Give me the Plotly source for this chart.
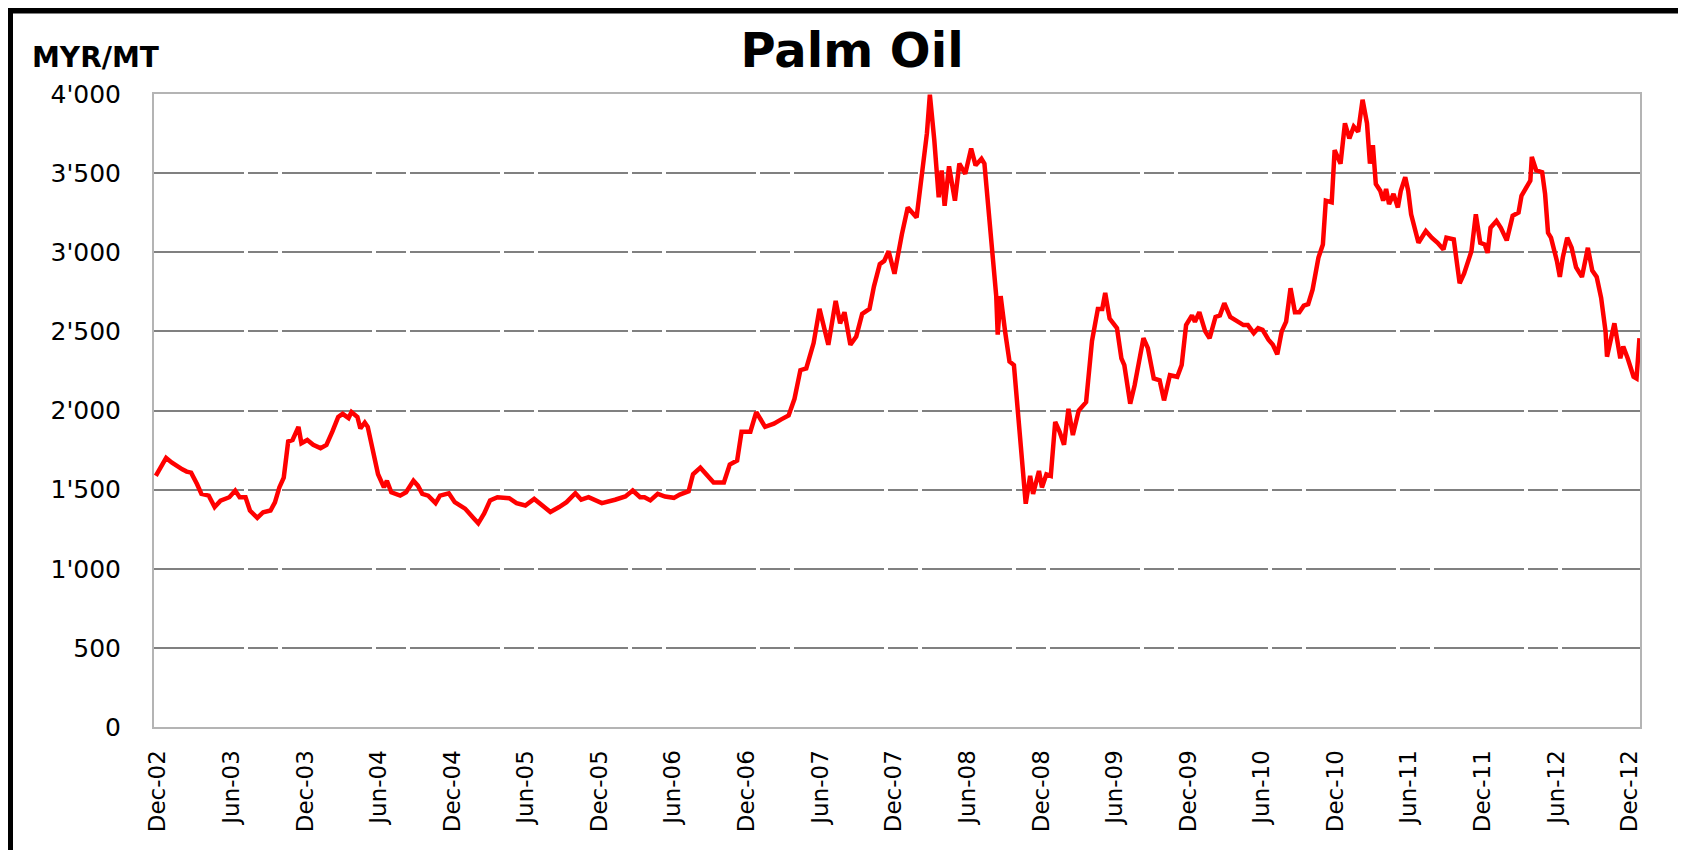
import pandas as pd
import plotly.graph_objects as go

# Time as decimal years
t = [2002.90, 2002.97, 2003.01, 2003.04, 2003.08, 2003.11, 2003.14, 2003.18, 2003.21, 2003.26,
     2003.30, 2003.34, 2003.37, 2003.40, 2003.44, 2003.47, 2003.51, 2003.54, 2003.59, 2003.63,
     2003.68, 2003.71, 2003.74, 2003.77, 2003.80, 2003.83, 2003.87, 2003.89, 2003.93, 2003.97,
     2004.02, 2004.06, 2004.10, 2004.14, 2004.17, 2004.21, 2004.23, 2004.27, 2004.29, 2004.32,
     2004.34, 2004.38, 2004.41, 2004.45, 2004.47, 2004.50, 2004.56,
     2004.60, 2004.65, 2004.68, 2004.71, 2004.75, 2004.80, 2004.83, 2004.89, 2004.93, 2005.00,
     2005.06, 2005.09, 2005.13, 2005.17, 2005.22, 2005.30, 2005.35, 2005.41, 2005.47, 2005.52,
     2005.58, 2005.64, 2005.69, 2005.75, 2005.79, 2005.84, 2005.93, 2006.02, 2006.09, 2006.14,
     2006.19, 2006.22,
     2006.26, 2006.31, 2006.36, 2006.42, 2006.46, 2006.52, 2006.55, 2006.60, 2006.64, 2006.69,
     2006.76, 2006.80, 2006.85, 2006.88, 2006.94, 2006.98, 2007.04, 2007.10, 2007.15, 2007.20,
     2007.24, 2007.28, 2007.32, 2007.37, 2007.41, 2007.47, 2007.52, 2007.55, 2007.58, 2007.62,
     2007.66, 2007.70, 2007.75, 2007.78, 2007.82,
     2007.85, 2007.88, 2007.92, 2007.97, 2008.01, 2008.07, 2008.10, 2008.14, 2008.16, 2008.19,
     2008.22, 2008.24, 2008.26, 2008.29, 2008.33, 2008.36, 2008.40, 2008.44, 2008.47, 2008.51,
     2008.53, 2008.56, 2008.58, 2008.61, 2008.62, 2008.64, 2008.67, 2008.70, 2008.73, 2008.76,
     2008.79, 2008.81, 2008.84, 2008.86, 2008.90, 2008.92, 2008.95, 2008.98, 2009.01, 2009.04,
     2009.07, 2009.10, 2009.13, 2009.17, 2009.22, 2009.26, 2009.30, 2009.33, 2009.35, 2009.38,
     2009.43, 2009.46, 2009.48, 2009.52, 2009.55,
     2009.57, 2009.61, 2009.64, 2009.68, 2009.72, 2009.75, 2009.79, 2009.84, 2009.87, 2009.90,
     2009.94, 2009.96, 2009.99, 2010.03, 2010.06, 2010.10, 2010.13, 2010.16, 2010.20, 2010.24,
     2010.29, 2010.32, 2010.36, 2010.39, 2010.42, 2010.46, 2010.49, 2010.52, 2010.55, 2010.58,
     2010.61, 2010.64, 2010.67, 2010.70, 2010.73, 2010.76, 2010.80, 2010.83, 2010.85, 2010.89,
     2010.91, 2010.95, 2010.98, 2011.01, 2011.04, 2011.07, 2011.10, 2011.13, 2011.15, 2011.17,
     2011.19,
     2011.22, 2011.24, 2011.26, 2011.28, 2011.31, 2011.34, 2011.36, 2011.39, 2011.41, 2011.43,
     2011.48, 2011.53, 2011.57, 2011.61, 2011.65, 2011.67, 2011.72, 2011.76, 2011.79, 2011.84,
     2011.87, 2011.90, 2011.93, 2011.95, 2011.97, 2012.01, 2012.04, 2012.08, 2012.12, 2012.16,
     2012.18, 2012.21, 2012.24, 2012.25, 2012.28, 2012.32, 2012.34, 2012.36, 2012.38, 2012.42,
     2012.44, 2012.46, 2012.49, 2012.52, 2012.55, 2012.59, 2012.63, 2012.66, 2012.69, 2012.72,
     2012.75, 2012.76, 2012.79, 2012.81, 2012.85, 2012.87, 2012.90, 2012.94, 2012.96, 2012.98]

# Palm oil price, MYR/MT
price = [1587, 1700, 1670, 1650, 1628, 1614, 1607, 1535, 1473, 1462,
         1390, 1430, 1441, 1452, 1494, 1452, 1452, 1368, 1321, 1357,
         1368, 1420, 1514, 1576, 1804, 1814, 1897, 1793, 1814, 1783,
         1762, 1783, 1866, 1959, 1979, 1952, 1990, 1959, 1886, 1924,
         1897, 1742, 1597, 1514, 1556, 1483, 1462,
         1483, 1556, 1525, 1473, 1462, 1415, 1462, 1477, 1421, 1380,
         1318, 1287, 1349, 1432, 1452, 1446, 1415, 1400, 1441, 1400,
         1359, 1390, 1421, 1477, 1436, 1452, 1415, 1436, 1457, 1494,
         1452, 1452,
         1432, 1473, 1456, 1448, 1469, 1490, 1597, 1639, 1597, 1545,
         1545, 1659, 1684, 1866, 1866, 1990, 1897, 1917, 1944, 1969,
         2074, 2255, 2266, 2426, 2642, 2415, 2692, 2551, 2621, 2415,
         2468, 2611, 2642, 2783, 2925,
         2945, 3006, 2864, 3113, 3283, 3219, 3432, 3751, 3996, 3709,
         3347, 3517, 3294, 3543, 3326, 3560, 3496, 3655, 3549, 3591,
         3560, 3240, 3006, 2723, 2480, 2723, 2500, 2309, 2287, 1948,
         1597, 1411, 1587, 1473, 1618, 1514, 1597, 1587, 1928, 1866,
         1783, 2011, 1845, 2000, 2053, 2439, 2642, 2642, 2743, 2581,
         2520, 2330, 2287, 2043, 2160,
         2266, 2457, 2394, 2202, 2191, 2064, 2223, 2213, 2287, 2540,
         2601, 2561, 2621, 2500, 2457, 2591, 2601, 2678, 2591, 2571,
         2540, 2540, 2489, 2520, 2510, 2447, 2415, 2355, 2500, 2561,
         2773, 2621, 2621, 2662, 2672, 2763, 2966, 3049, 3326, 3315,
         3645, 3560, 3815, 3719, 3794, 3762, 3964, 3815, 3560, 3677,
         3432,
         3389, 3326, 3400, 3304, 3368, 3283, 3389, 3474, 3389, 3240,
         3060, 3134, 3092, 3060, 3017, 3092, 3081, 2804, 2864, 3006,
         3240, 3060, 3049, 2996, 3155, 3198, 3155, 3075, 3230, 3251,
         3357, 3411, 3453, 3602, 3517, 3506, 3368, 3123, 3092, 2945,
         2844, 2966, 3092, 3028, 2905, 2844, 3028, 2884, 2844, 2712,
         2500, 2340, 2479, 2551, 2330, 2404, 2330, 2213, 2202, 2457]

x_tick_dates = ["2002-12-01", "2003-06-01", "2003-12-01", "2004-06-01", "2004-12-01",
                "2005-06-01", "2005-12-01", "2006-06-01", "2006-12-01", "2007-06-01",
                "2007-12-01", "2008-06-01", "2008-12-01", "2009-06-01", "2009-12-01",
                "2010-06-01", "2010-12-01", "2011-06-01", "2011-12-01", "2012-06-01",
                "2012-12-01"]
x_tick_labels = ["Dec-02", "Jun-03", "Dec-03", "Jun-04", "Dec-04", "Jun-05", "Dec-05",
                 "Jun-06", "Dec-06", "Jun-07", "Dec-07", "Jun-08", "Dec-08", "Jun-09",
                 "Dec-09", "Jun-10", "Dec-10", "Jun-11", "Dec-11", "Jun-12", "Dec-12"]
y_tick_vals = [0, 500, 1000, 1500, 2000, 2500, 3000, 3500, 4000]
y_tick_labels = ["0", "500", "1'000", "1'500", "2'000", "2'500", "3'000", "3'500", "4'000"]


def to_date(ty):
    y = int(ty)
    start = pd.Timestamp(y, 1, 1)
    end = pd.Timestamp(y + 1, 1, 1)
    return start + (end - start) * (ty - y)


dates = [to_date(v) for v in t]

# the page body has an 8px margin; the figure is sized to fill the rest of the window
OFF = 8
W, H = 1686 - OFF, 850 - OFF
L, R, T, B = 154 - OFF, 46, 94 - OFF, 123
pw, ph = W - L - R, H - T - B


def px(xs):  # screen x -> paper x
    return (xs - OFF - L) / pw


def py(ys):  # screen y -> paper y
    return (H - B - (ys - OFF)) / ph


fig = go.Figure()
fig.add_trace(go.Scatter(x=dates, y=price, mode="lines",
                         line=dict(color="#ff0000", width=4.5), hoverinfo="skip"))

font_main = "DejaVu Sans"

fig.update_layout(
    width=W, height=H,
    margin=dict(l=L, r=R, t=T, b=B, autoexpand=False),
    paper_bgcolor="white", plot_bgcolor="white",
    showlegend=False,
    title=dict(text="<b>Palm Oil</b>", font=dict(family=font_main, size=48, color="black"),
               xref="container", yref="container", x=(852 - OFF) / W, xanchor="center",
               y=1 - (50 - OFF) / H, yanchor="middle"),
    xaxis=dict(type="date", range=["2002-11-21", "2012-12-26"],
               tickmode="array", tickvals=x_tick_dates, ticktext=x_tick_labels,
               tickangle=-90, tickfont=dict(family=font_main, size=23, color="black"),
               ticks="", ticklabelstandoff=12,
               showgrid=False, zeroline=False,
               showline=True, linecolor="#b4b4b4", linewidth=2, mirror=True),
    yaxis=dict(range=[0, 4000], tickmode="array", tickvals=y_tick_vals, ticktext=y_tick_labels,
               tickfont=dict(family=font_main, size=25, color="black"),
               ticks="", ticklabelstandoff=26,
               showgrid=True, gridcolor="#808080", gridwidth=2, griddash="90px,4px,30px,4px",
               zeroline=False,
               showline=True, linecolor="#b4b4b4", linewidth=2, mirror=True),
    annotations=[dict(text="<b>MYR/MT</b>", xref="paper", yref="paper",
                      x=px(30), y=py(57), xanchor="left", yanchor="middle",
                      showarrow=False, font=dict(family=font_main, size=28, color="black"))],
    shapes=[
        dict(type="line", xref="paper", yref="paper", x0=px(9.5), x1=px(9.5), y0=py(6), y1=py(900),
             line=dict(color="black", width=7)),
        dict(type="line", xref="paper", yref="paper", x0=px(6), x1=px(1683), y0=py(10), y1=py(10),
             line=dict(color="black", width=7)),
        dict(type="line", xref="paper", yref="paper", x0=px(1681), x1=px(1681), y0=py(7), y1=py(900),
             line=dict(color="black", width=4)),
    ],
)

fig.write_html("out.html")
